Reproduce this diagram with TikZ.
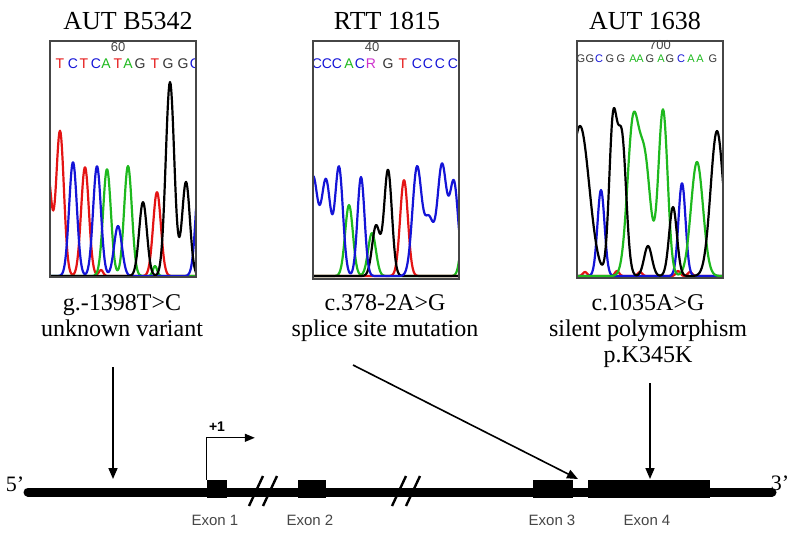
\documentclass[tikz,border=0pt]{standalone}
\usepackage{fontspec}
\setmainfont{Liberation Serif}
\setsansfont{Liberation Sans}
\usetikzlibrary{arrows.meta}
\definecolor{Cred}{RGB}{228,20,20}
\definecolor{Cblue}{RGB}{20,20,215}
\definecolor{Cgreen}{RGB}{30,185,30}
\definecolor{Cmag}{RGB}{205,50,205}
\definecolor{Cgray}{RGB}{70,70,70}

\begin{document}
\begin{tikzpicture}[x=1pt, y=-1pt,
      declare function={pk(\u,\c,\h,\w)=\h*exp(-min(((\u-\c)/\w)*((\u-\c)/\w),16));},
      title/.style={font=\fontsize{26}{28}\selectfont, anchor=base},
      mlab/.style={font=\fontsize{24}{26}\selectfont, anchor=base},
      cbox/.style={draw=Cgray, line width=1.2pt},
      tr/.style={line width=2.2pt, line join=round},
      nt/.style={font=\sffamily\fontsize{14}{14}\selectfont, anchor=base, inner sep=0pt},
      ntT/.style={text=Cred}, ntC/.style={text=Cblue}, ntA/.style={text=Cgreen},
      ntG/.style={text=black!80}, ntR/.style={text=Cmag},
      posnum/.style={font=\sffamily\fontsize{13}{13}\selectfont, text=Cgray, anchor=base},
      gene/.style={line width=9pt, line cap=round},
      exon/.style={fill=black, inner sep=0pt, minimum height=18pt},
      exlab/.style={font=\sffamily\fontsize{15}{15}\selectfont, text=Cgray, anchor=base},
      brk/.style={line width=2.4pt},
      mut/.style={line width=1.6pt, -{Triangle[length=11pt, width=9pt]}}]
    \useasboundingbox (0,0) rectangle (800,535);
    % Titles
    \node[title] (t1) at (128,30) {AUT B5342};
    \node[title] (t2) at (387,30) {RTT 1815};
    \node[title] (t3) at (645,30) {AUT 1638};
    % Chromatogram 1
    \begin{scope}
      \clip (50,41) rectangle (196,277);
      \draw[tr, Cred] plot[domain=50:196, samples=220] (\x, {276 - pk(\x,48,100,5) - pk(\x,60,145,5.5)
        - pk(\x,85,109,5.5) - pk(\x,157,84,5.5) - pk(\x,101,6,3)});
      \draw[tr, Cgreen] plot[domain=50:196, samples=220] (\x, {276 - pk(\x,107,107,5.5)
        - pk(\x,128,110,5.5) - pk(\x,155,10,3)});
      \draw[tr, Cblue] plot[domain=50:196, samples=220] (\x, {276 - pk(\x,73,114,5.5)
        - pk(\x,97,110,5.5) - pk(\x,118,50,5.5) - pk(\x,201,135,6)});
      \draw[tr, black] plot[domain=50:196, samples=220] (\x, {276 - pk(\x,143,74,5.5)
        - pk(\x,170,194,6) - pk(\x,186,94,5.5)});
      \foreach \b/\xx [count=\i] in {T/60,C/73,T/84,C/96,A/106,T/118,A/128,G/140,T/155,G/168,G/183,C/195}
        \node[nt, nt\b] (sa\i) at (\xx,68) {\b};
    \end{scope}
    \draw[cbox] (50,41) rectangle (196,277);
    \node[posnum] (n1) at (118,52) {60};
    % Chromatogram 2
    \begin{scope}
      \clip (313,41) rectangle (459,279);
      \draw[tr, Cgreen] plot[domain=313:459, samples=220] (\x, {276 - pk(\x,349,71,5.5)
        - pk(\x,372,43,5.5) - pk(\x,466,80,5.5)});
      \draw[tr, Cred] plot[domain=313:459, samples=220] (\x, {276 - pk(\x,404,96,5.5)});
      \draw[tr, black] plot[domain=313:459, samples=220] (\x, {276 - pk(\x,376,50,5.5)
        - pk(\x,388,106,5.5)});
      \draw[tr, Cblue] plot[domain=313:459, samples=220] (\x, {276 - pk(\x,313,98,6.5)
        - pk(\x,326,95,6.5) - pk(\x,339,108,5.5) - pk(\x,361,99,5) - pk(\x,417,108,6.5)
        - pk(\x,429,55,6.5) - pk(\x,442,110,6.5) - pk(\x,454,92,6)});
      \foreach \b/\xx [count=\i] in {C/317,C/327,C/337,A/349,C/360,R/371,G/388,T/403,C/417,C/428,C/440,C/453}
        \node[nt, nt\b] (sb\i) at (\xx,68) {\b};
    \end{scope}
    \draw[cbox] (313,41) rectangle (459,279);
    \node[posnum] (n2) at (372,52) {40};
    % Chromatogram 3
    \begin{scope}
      \clip (577,41) rectangle (723,278);
      \draw[tr, Cred] plot[domain=577:723, samples=220] (\x, {276 - pk(\x,585,4,3)
        - pk(\x,617,5,3) - pk(\x,640,4,3) - pk(\x,678,5,3) - pk(\x,690,4,3)});
      \draw[tr, Cblue] plot[domain=577:723, samples=220] (\x, {276 - pk(\x,601,86,5)
        - pk(\x,682,93,5)});
      \draw[tr, Cgreen] plot[domain=577:723, samples=220] (\x, {276 - pk(\x,633,150,8)
        - pk(\x,645,110,8) - pk(\x,663,166,6.5) - pk(\x,697,114,8.5)});
      \draw[tr, black] plot[domain=577:723, samples=220] (\x, {276 - pk(\x,580,150,13)
        - pk(\x,613,150,5.5) - pk(\x,622,135,6) - pk(\x,648,30,5.5) - pk(\x,673,69,5.5)
        - pk(\x,717,145,9)});
      \foreach \b/\xx [count=\i] in {G/581,G/590,C/599,G/610,G/621,A/633,A/640,G/650,A/661,G/670,C/681,A/691,A/700,G/713}
        \node[nt, nt\b, font=\sffamily\fontsize{11}{11}\selectfont] (sc\i) at (\xx,63) {\b};
    \end{scope}
    \draw[cbox] (577,41) rectangle (723,278);
    \node[posnum] (n3) at (660,50) {700};
    % Mutation labels
    \node[mlab] (m1a) at (122,310) {g.-1398T>C};
    \node[mlab] (m1b) at (122,336) {unknown variant};
    \node[mlab] (m2a) at (385,310) {c.378-2A>G};
    \node[mlab] (m2b) at (385,336) {splice site mutation};
    \node[mlab] (m3a) at (648,310) {c.1035A>G};
    \node[mlab] (m3b) at (648,336) {silent polymorphism};
    \node[mlab] (m3c) at (648,362) {p.K345K};
    % Gene
    \coordinate (g5) at (28,492);
    \coordinate (g3) at (772,492);
    \draw[gene] (g5) -- (g3);
    \node[exon, minimum width=20pt] (ex1) at (217,489) {};
    \node[exon, minimum width=28pt] (ex2) at (312,489) {};
    \node[exon, minimum width=40pt] (ex3) at (553,489) {};
    \node[exon, minimum width=122pt] (ex4) at (649,489) {};
    \node[exlab] (lx1) at (215,525) {Exon 1};
    \node[exlab] (lx2) at (310,525) {Exon 2};
    \node[exlab] (lx3) at (552,525) {Exon 3};
    \node[exlab] (lx4) at (647,525) {Exon 4};
    \node[font=\fontsize{22}{22}\selectfont, anchor=base] (p5) at (15,491) {5’};
    \node[font=\fontsize{22}{22}\selectfont, anchor=base] (p3) at (780,490) {3’};
    % Breaks
    \foreach \s in {256,270,399,413}
      \draw[brk] (\s-7,506) -- (\s+7,476);
    % Transcription start
    \draw[line width=1.3pt, -{Triangle[length=10pt, width=8pt]}]
      (ex1.north west) -- ++(0,-42) -- ++(48,0);
    \node[font=\sffamily\bfseries\fontsize{14}{14}\selectfont, anchor=base] (tss) at (217,431) {+1};
    % Arrows to the gene
    \coordinate (a1) at (113,367);
    \coordinate (b1) at (113,479);
    \coordinate (a2) at (353,365);
    \coordinate (b2) at (578,479);
    \coordinate (a3) at (650,383);
    \coordinate (b3) at (650,479);
    \draw[mut] (a1) -- (b1);
    \draw[mut] (a2) -- (b2);
    \draw[mut] (a3) -- (b3);
  \end{tikzpicture}
\end{document}
